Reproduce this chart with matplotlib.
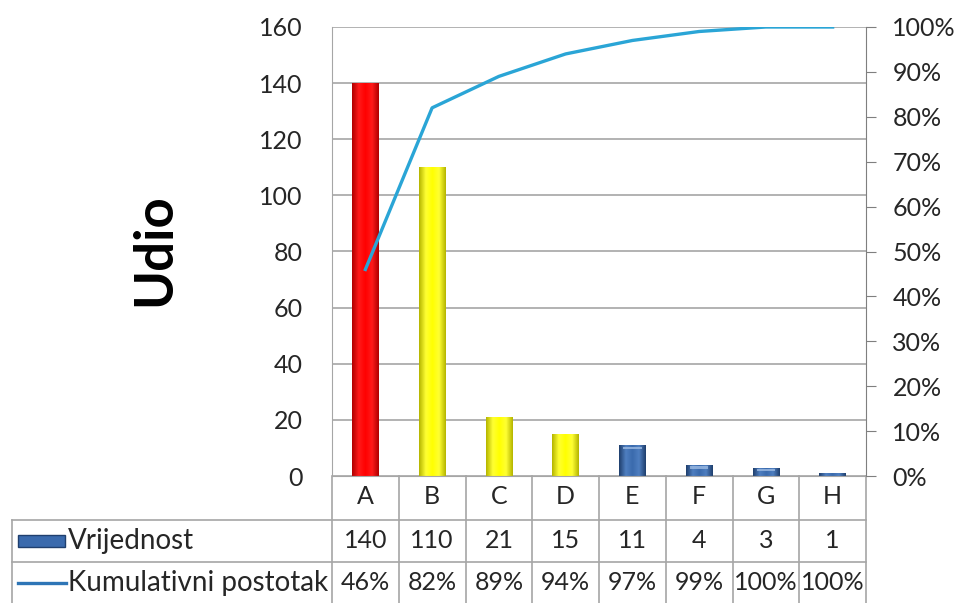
import numpy as np
import matplotlib.pyplot as plt
from matplotlib.patches import Rectangle
from matplotlib.lines import Line2D
import matplotlib.transforms as mtransforms
from matplotlib.colors import LinearSegmentedColormap

plt.rcParams['font.family'] = ['Lato', 'DejaVu Sans']

# data
kategorije = ['A', 'B', 'C', 'D', 'E', 'F', 'G', 'H']
vrijednost = [140, 110, 21, 15, 11, 4, 3, 1]
kumulativ = [46, 82, 89, 94, 97, 99, 100, 100]   # %
boje = ['red', 'yellow', 'yellow', 'yellow', 'blue', 'blue', 'blue', 'blue']

gradijenti = {
    'red': ['#b00000', '#ff1a1a', '#ff0000', '#ff1a1a', '#b00000'],
    'yellow': ['#b5b500', '#ffff33', '#ffff00', '#ffff33', '#b5b500'],
    'blue': ['#1f3f6e', '#4f7fc0', '#3a6aad', '#4f7fc0', '#1f3f6e'],
}

W, H = 963, 603
fig = plt.figure(figsize=(W / 100, H / 100), dpi=100)
L, R, T, B = 332, 866, 27, 476
ax = fig.add_axes([L / W, (H - B) / H, (R - L) / W, (B - T) / H])
ph = B - T  # pixels per axes unit in y

x = np.arange(len(kategorije))
bars = ax.bar(x, vrijednost, width=0.4, color='none', zorder=2)
for b, c in zip(bars, boje):
    cmap = LinearSegmentedColormap.from_list('g', gradijenti[c])
    x0, y0 = b.get_x(), b.get_y()
    w, h = b.get_width(), b.get_height()
    grad = np.linspace(0, 1, 64).reshape(1, -1)
    im = ax.imshow(grad, cmap=cmap, aspect='auto', extent=[x0, x0 + w, y0, y0 + h], zorder=2)
    im.set_clip_path(b)
    if c == 'blue':
        # lighter top highlight
        ax.add_patch(Rectangle((x0 + w * 0.15, y0 + h - min(h * 0.35, 1.4)), w * 0.7, min(h * 0.2, 0.8),
                               color='#9dbbe3', alpha=0.8, zorder=3, lw=0))

tc = '#262626'
ax.set_xlim(-0.5, len(kategorije) - 0.5)
ax.set_ylim(0, 160)
ax.set_yticks(np.arange(0, 161, 20))
ax.grid(axis='y', color='#a6a6a6', lw=1.2, zorder=0)
ax.set_axisbelow(True)
ax.tick_params(axis='y', length=0, labelsize=18, colors=tc, pad=21)
ax.set_xticks([])
for s in ['top', 'right']:
    ax.spines[s].set_visible(False)
ax.spines['left'].set_color('#a6a6a6')
ax.spines['bottom'].set_color('#a6a6a6')

ax2 = ax.twinx()
ax2.plot(x, kumulativ, color='#2aa5d6', lw=2.4, zorder=4)
ax2.set_ylim(0, 100)
ax2.set_yticks(np.arange(0, 101, 10))
ax2.set_yticklabels([f'{v}%' for v in range(0, 101, 10)])
ax2.tick_params(axis='y', length=7, color='#7f7f7f', labelsize=18, labelcolor=tc, pad=12)
for s in ['top', 'left', 'bottom']:
    ax2.spines[s].set_visible(False)
ax2.spines['right'].set_color('#7f7f7f')

fig.text(155 / W, 1 - 250 / H, 'Udio', rotation=90, fontsize=38, fontweight='bold',
         ha='center', va='center')

# data table below the plot
tr = mtransforms.blended_transform_factory(ax.transData, ax.transAxes)
lc = '#a6a6a6'
def px2x(px):
    return -0.5 + (px - L) / ((R - L) / len(kategorije))

r1, r2, r3 = -44 / ph, -86 / ph, -127 / ph
xl = px2x(12)
for yy in (r1, r2):
    ax.add_line(Line2D([xl, len(kategorije) - 0.5], [yy, yy], transform=tr, color=lc, lw=1.2, clip_on=False))
ax.add_line(Line2D([xl, xl], [r1, r3], transform=tr, color=lc, lw=1.2, clip_on=False))
for i in range(len(kategorije) + 1):
    ax.add_line(Line2D([i - 0.5, i - 0.5], [0, r3], transform=tr, color=lc, lw=1.2, clip_on=False))

for i, k in enumerate(kategorije):
    ax.text(i, -21 / ph, k, transform=tr, ha='center', va='center', fontsize=18, color=tc)
    ax.text(i, -65 / ph, str(vrijednost[i]), transform=tr, ha='center', va='center', fontsize=18, color=tc)
    ax.text(i, -107 / ph, f'{kumulativ[i]}%', transform=tr, ha='center', va='center', fontsize=18, color=tc)

# legend keys inside the table
ax.add_patch(Rectangle((px2x(18), -71 / ph), px2x(65) - px2x(18), 12 / ph, transform=tr,
                       facecolor='#3a6aad', edgecolor='#1f3f6e', lw=1, clip_on=False))
ax.add_line(Line2D([px2x(18), px2x(66)], [-107 / ph, -107 / ph], transform=tr, color='#2e75b6', lw=2.4, clip_on=False))
ax.text(px2x(68), -65 / ph, 'Vrijednost', transform=tr, ha='left', va='center', fontsize=20, color=tc)
ax.text(px2x(68), -107 / ph, 'Kumulativni postotak', transform=tr, ha='left', va='center', fontsize=20, color=tc)

fig.savefig('out.png', dpi=100)
